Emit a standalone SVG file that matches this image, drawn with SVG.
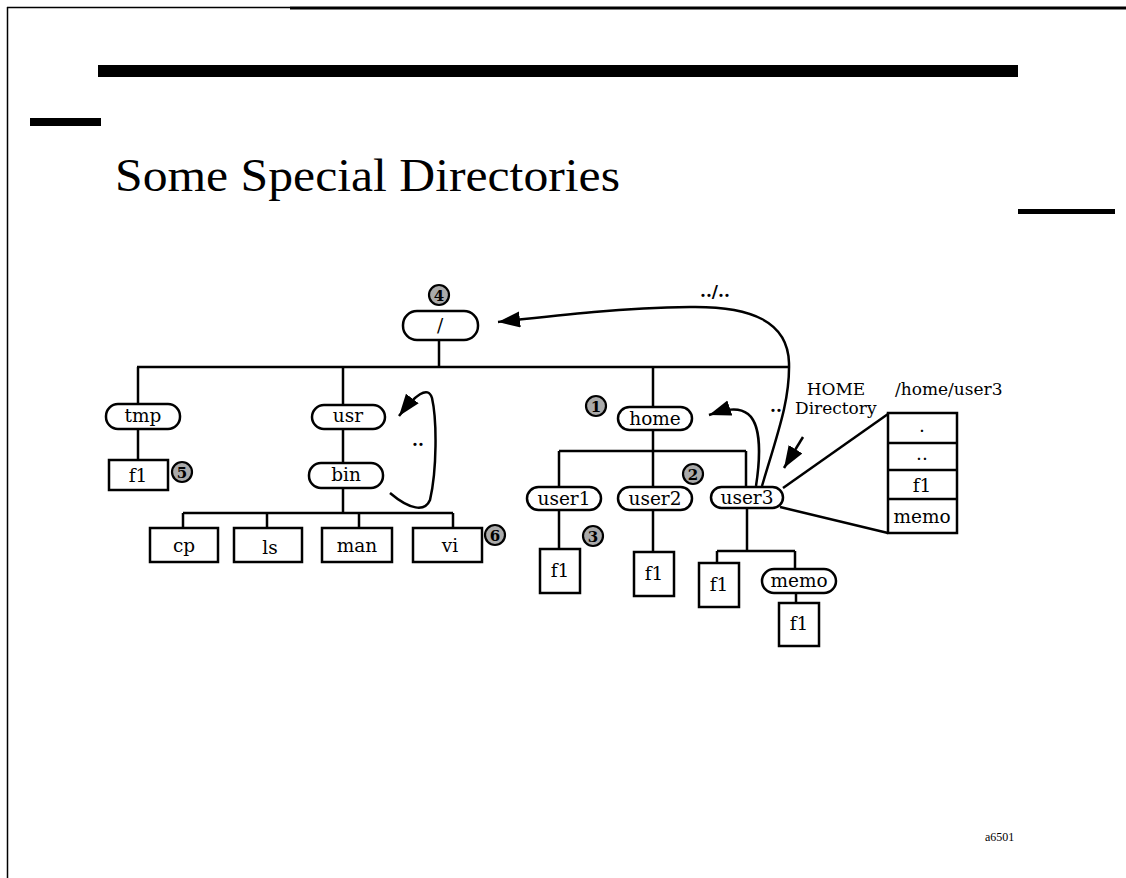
<svg xmlns="http://www.w3.org/2000/svg" width="1126" height="878" viewBox="0 0 1126 878">
<style>
.ln{fill:none;stroke:#000;stroke-width:2.5}
.pill{fill:#fff;stroke:#000;stroke-width:2.5}
.box{fill:#fff;stroke:#000;stroke-width:2.5}
.lbl{font-family:"DejaVu Serif","Liberation Serif",serif;font-size:18.5px;fill:#000;text-anchor:middle}
.sm{font-family:"DejaVu Serif","Liberation Serif",serif;font-size:17px;fill:#000}
.num circle{fill:#aaa;stroke:#000;stroke-width:2.2}
.num text{font-family:"DejaVu Serif","Liberation Serif",serif;font-size:15px;font-weight:bold;fill:#000;text-anchor:middle}
</style>
<defs>
<marker id="ah" markerUnits="userSpaceOnUse" markerWidth="24" markerHeight="18" refX="22" refY="8" orient="auto">
<path d="M0,0 L22,8 L0,16 z" fill="#000"/>
</marker>
</defs>
<rect width="1126" height="878" fill="#fff"/>
<!-- page decoration -->
<g id="frame">
<line x1="7.5" y1="7" x2="7.5" y2="878" stroke="#000" stroke-width="1.5"/>
<line x1="7" y1="7.5" x2="290" y2="7.5" stroke="#000" stroke-width="1.5"/>
<rect x="290" y="6.5" width="836" height="3" fill="#000"/>
<rect x="98" y="65" width="920" height="12" fill="#000"/>
<rect x="30" y="118" width="71" height="8" fill="#000"/>
<rect x="1018" y="209" width="97" height="5" fill="#000"/>
<text x="115" y="191" font-family="Liberation Serif, serif" font-size="46" textLength="505" lengthAdjust="spacingAndGlyphs">Some Special Directories</text>
<text x="985" y="841" font-family="Liberation Serif, serif" font-size="12">a6501</text>
</g>
<!-- connectors -->
<g id="connectors">
<path class="ln" d="M439 340 V367"/>
<path class="ln" d="M137 367 H789"/>
<path class="ln" d="M138 367 V404"/>
<path class="ln" d="M138 429 V460"/>
<path class="ln" d="M343 367 V405"/>
<path class="ln" d="M343 429 V463"/>
<path class="ln" d="M343 488 V513"/>
<path class="ln" d="M183 513 H453"/>
<path class="ln" d="M183 513 V528 M267 513 V528 M359 513 V528 M453 513 V528"/>
<path class="ln" d="M653 367 V407"/>
<path class="ln" d="M653 430 V451"/>
<path class="ln" d="M559 451 H746"/>
<path class="ln" d="M559 451 V487 M653 451 V487 M746 451 V487"/>
<path class="ln" d="M559 510 V549"/>
<path class="ln" d="M653 510 V552"/>
<path class="ln" d="M747 507 V551"/>
<path class="ln" d="M717 551 H795"/>
<path class="ln" d="M717 551 V563 M795 551 V569"/>
<path class="ln" d="M796 593 V603"/>
<path class="ln" d="M783 488 L888 414"/>
<path class="ln" d="M780 507 L888 533"/>
<path class="ln" marker-end="url(#ah)" d="M762 486 C778 432 790 400 789 363 C788 322 752 306 690 307 C620 308 560 315 498 322"/>
<path class="ln" marker-end="url(#ah)" d="M756 486 C760 460 762 425 748 414 C738 406 724 410 709 415"/>
<path class="ln" marker-end="url(#ah)" d="M390 493 C410 510 425 512 430 500 C437 470 437 420 432 398 C428 385 415 395 399 416"/>
<path class="ln" marker-end="url(#ah)" d="M803 437 L784 468"/>
</g>
<!-- nodes -->
<g id="n-root"><rect class="pill" x="403" y="311" width="75" height="29" rx="14"/><text class="lbl" x="440" y="332">/</text></g>
<g id="n-tmp"><rect class="pill" x="106" y="404" width="74" height="25" rx="12"/><text class="lbl" x="143" y="422">tmp</text></g>
<g id="n-tmp-f1"><rect class="box" x="109" y="460" width="59" height="30"/><text class="lbl" x="138" y="482">f1</text></g>
<g id="n-usr"><rect class="pill" x="312" y="405" width="73" height="24" rx="12"/><text class="lbl" x="348" y="422">usr</text></g>
<g id="n-bin"><rect class="pill" x="309" y="463" width="74" height="25" rx="12"/><text class="lbl" x="346" y="481">bin</text></g>
<g id="n-cp"><rect class="box" x="150" y="528" width="68" height="34"/><text class="lbl" x="184" y="552">cp</text></g>
<g id="n-ls"><rect class="box" x="234" y="528" width="68" height="34"/><text class="lbl" x="270" y="554">ls</text></g>
<g id="n-man"><rect class="box" x="322" y="528" width="70" height="34"/><text class="lbl" x="357" y="552">man</text></g>
<g id="n-vi"><rect class="box" x="413" y="528" width="69" height="34"/><text class="lbl" x="450" y="552">vi</text></g>
<g id="n-home"><rect class="pill" x="618" y="407" width="74" height="23" rx="11.5"/><text class="lbl" x="655" y="425">home</text></g>
<g id="n-user1"><rect class="pill" x="527" y="487" width="74" height="23" rx="11.5"/><text class="lbl" x="564" y="505">user1</text></g>
<g id="n-user2"><rect class="pill" x="618" y="487" width="74" height="23" rx="11.5"/><text class="lbl" x="655" y="505">user2</text></g>
<g id="n-user3"><rect class="pill" x="711" y="487" width="72" height="21" rx="10.5"/><text class="lbl" x="747" y="504">user3</text></g>
<g id="n-user1-f1"><rect class="box" x="540" y="549" width="40" height="44"/><text class="lbl" x="560" y="577">f1</text></g>
<g id="n-user2-f1"><rect class="box" x="634" y="552" width="40" height="44"/><text class="lbl" x="654" y="580">f1</text></g>
<g id="n-user3-f1"><rect class="box" x="699" y="563" width="40" height="44"/><text class="lbl" x="719" y="591">f1</text></g>
<g id="n-memo"><rect class="pill" x="762" y="569" width="74" height="24" rx="12"/><text class="lbl" x="799" y="587">memo</text></g>
<g id="n-memo-f1"><rect class="box" x="779" y="603" width="40" height="43"/><text class="lbl" x="799" y="630">f1</text></g>
<g id="n-table">
<rect class="box" x="888" y="413" width="69" height="120"/>
<path class="ln" d="M888 443 H957 M888 470 H957 M888 499 H957"/>
<text class="lbl" x="922" y="432">.</text>
<text class="lbl" x="922" y="460">..</text>
<text class="lbl" x="922" y="492">f1</text>
<text class="lbl" x="922" y="523">memo</text>
</g>
<g id="labels">
<text class="sm" x="700" y="297" font-weight="bold">../..</text>
<text class="sm" x="412" y="446" font-weight="bold">..</text>
<text class="sm" x="770" y="412" font-weight="bold">..</text>
<text class="sm" x="836" y="395" text-anchor="middle">HOME</text>
<text class="sm" x="795" y="414">Directory</text>
<text class="sm" x="895" y="395">/home/user3</text>
</g>
<g id="markers-numbers" class="num">
<g><circle cx="439" cy="295" r="10"/><text x="439" y="300.5">4</text></g>
<g><circle cx="596" cy="406" r="10"/><text x="596" y="411.5">1</text></g>
<g><circle cx="693" cy="474" r="10"/><text x="693" y="479.5">2</text></g>
<g><circle cx="593" cy="536" r="10"/><text x="593" y="541.5">3</text></g>
<g><circle cx="182" cy="472" r="10"/><text x="182" y="477.5">5</text></g>
<g><circle cx="495" cy="535" r="10"/><text x="495" y="540.5">6</text></g>
</g>
</svg>
